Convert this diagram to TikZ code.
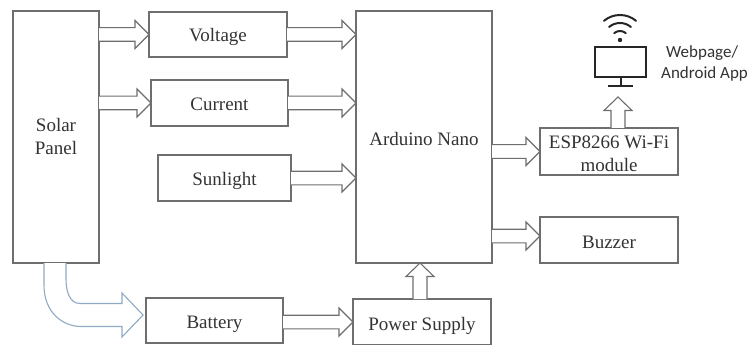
\documentclass[tikz,border=0pt]{standalone}
\usepackage{fontspec}
\setmainfont{Liberation Serif}
\newfontfamily\appfont{Carlito}
\usetikzlibrary{calc}
\definecolor{edge}{HTML}{6E6E6E}
\definecolor{txt}{HTML}{333333}
\definecolor{bluearrow}{HTML}{8FAAC4}
\newcommand{\lw}[2][2.5pt]{\raisebox{-#1}[\height][0pt]{#2}}
\tikzset{
  blockbox/.style={draw=edge,line width=1.1pt,fill=white,inner sep=0pt,outer sep=0pt,
    align=center,text=txt,font=\fontsize{19}{23}\selectfont,minimum width=#1},
  blockarrow/.style={draw=edge,line width=1.1pt,fill=white,line join=miter},
  iconline/.style={draw=black!85,line width=2pt},
  applabel/.style={text=txt,font=\appfont\fontsize{17}{21}\selectfont,align=left,inner sep=0pt}
}
\newcommand{\rightblock}[2]{%
  \draw[blockarrow] let \p1=(#1), \p2=(#2) in
    (\x1,\y2+6.8pt) -- (\x2-14pt,\y2+6.8pt) -- (\x2-14pt,\y2+14pt) -- (\x2,\y2)
    -- (\x2-14pt,\y2-14pt) -- (\x2-14pt,\y2-6.8pt) -- (\x1,\y2-6.8pt);}
\newcommand{\upblock}[2]{%
  \draw[blockarrow] let \p1=(#1), \p2=(#2) in
    (\x2-7pt,\y1) -- (\x2-7pt,\y2-13.5pt) -- (\x2-14pt,\y2-13.5pt) -- (\x2,\y2)
    -- (\x2+14pt,\y2-13.5pt) -- (\x2+7pt,\y2-13.5pt) -- (\x2+7pt,\y1);}
\begin{document}
\begin{tikzpicture}[x=1pt,y=-1pt]
\useasboundingbox (0,0) rectangle (748,345);
\node[blockbox=86pt,minimum height=252pt] (solar) at (56,137) {Solar\\Panel};
\node[blockbox=138pt,minimum height=45pt] (voltage) at (218,34.5) {\lw[0.5pt]{Voltage}};
\node[blockbox=137pt,minimum height=46pt] (current) at (219.5,103) {\lw[1.5pt]{Current}};
\node[blockbox=133pt,minimum height=46pt] (sunlight) at (224.5,178) {\lw[0.5pt]{Sunlight}};
\node[blockbox=136pt,minimum height=252pt] (arduino) at (424,137) {\lw[1.5pt]{Arduino Nano}};
\node[blockbox=138pt,minimum height=47pt] (esp) at (609,151.5) {\lw{ESP8266 Wi-Fi}\\\lw{module}};
\node[blockbox=138pt,minimum height=46pt] (buzzer) at (609,240) {\lw{Buzzer}};
\node[blockbox=137pt,minimum height=45pt] (battery) at (214.5,320.5) {\lw[1.5pt]{Battery}};
\node[blockbox=138pt,minimum height=46pt] (power) at (422,322) {\lw[1.5pt]{Power Supply}};
% monitor icon
\node[iconline,fill=white,minimum width=51pt,minimum height=30pt,inner sep=0pt,outer sep=0pt] (monitor) at (620.5,62) {};
\coordinate (monbase) at (620.5,86);
\draw[iconline] (monitor.south) -- (monbase);
\draw[iconline] ([xshift=-12.5pt]monbase) -- ([xshift=12.5pt]monbase);
\coordinate (wifi) at (620,40);
\fill[black!85] (wifi) circle (2.2pt);
\foreach \r in {9,17,25}{
  \draw[iconline,line cap=round] ($(wifi)+(50:\r pt)$) arc[start angle=50,end angle=130,radius=\r pt];
}
\node[applabel,anchor=west] (web) at (666,53) {Webpage/};
\node[applabel,anchor=west] (android) at (661,74) {Android App};
% block arrows
\rightblock{solar.east}{voltage.west}
\rightblock{solar.east}{current.west}
\rightblock{voltage.east}{arduino.west |- voltage.east}
\rightblock{current.east}{arduino.west |- current.east}
\rightblock{sunlight.east}{arduino.west |- sunlight.east}
\rightblock{arduino.east}{esp.west}
\rightblock{arduino.east}{$(buzzer.west)+(0,4pt)$}
\rightblock{battery.east}{power.west}
\coordinate (arduinoin) at ($(arduino.south)+(-4pt,0)$);
\upblock{power.north}{arduinoin}
\coordinate (appin) at ($(monbase)+(-2.5pt,-11pt)$);
\upblock{esp.north}{appin}
% curved solar-to-battery arrow
\coordinate (btip) at ($(battery.west)+(-3pt,5.5pt)$);
\draw[draw=bluearrow,line width=1.1pt,line join=miter,fill=white]
  ($(solar.south)+(-12pt,0)$) -- ($(solar.south)+(-12pt,-22pt)$)
  .. controls ($(solar.south)+(-12pt,-50pt)$) and ($(btip)+(-80pt,-11pt)$) .. ($(btip)+(-63pt,-11.5pt)$)
  -- ($(btip)+(-21pt,-11.5pt)$) -- ($(btip)+(-21pt,-22pt)$) -- (btip)
  -- ($(btip)+(-21pt,22pt)$) -- ($(btip)+(-21pt,11.5pt)$) -- ($(btip)+(-63pt,11.5pt)$)
  .. controls ($(btip)+(-74pt,11.5pt)$) and ($(solar.south)+(10pt,-27pt)$) .. ($(solar.south)+(10pt,-16pt)$)
  -- ($(solar.south)+(10pt,0)$);
\end{tikzpicture}
\end{document}
